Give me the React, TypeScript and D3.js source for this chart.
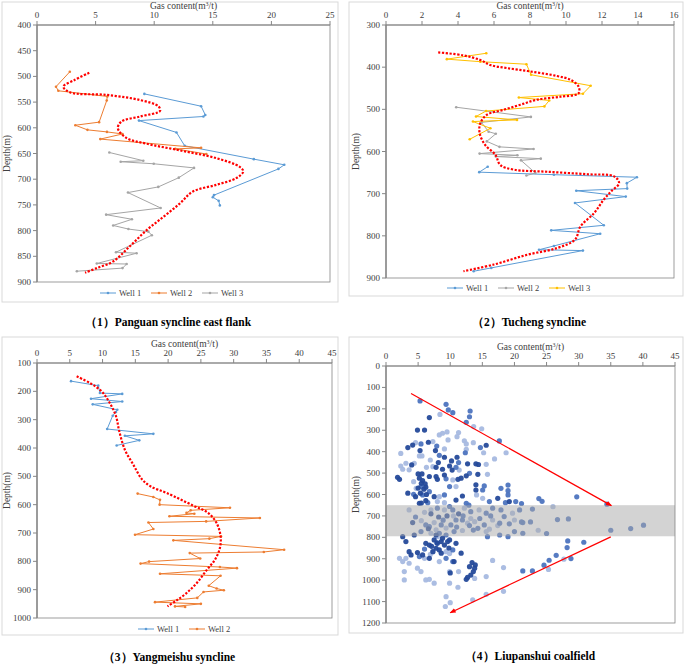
import React from 'react';
import * as d3 from 'd3';

type Pt = [number, number]; // [gas content, depth]

// (1) Panguan syncline east flank
const p1Well1: Pt[] = [
  [9.16, 534], [14.0, 558], [14.36, 575], [14.2, 578], [8.7, 586], [11.9, 609], [12.6, 635],
  [18.5, 661], [21.1, 672], [20.6, 680], [15.1, 731], [15.0, 735], [15.5, 742], [15.6, 751],
];
const p1Well2: Pt[] = [
  [2.8, 491], [1.62, 520], [1.82, 528], [6.0, 539], [5.95, 547], [5.3, 589], [3.27, 595],
  [4.3, 604], [5.97, 608], [7.3, 612], [5.4, 622], [14.0, 639], [11.8, 641], [14.45, 651],
];
const p1Well3: Pt[] = [
  [6.17, 648], [9.07, 664], [7.14, 666], [9.96, 670], [13.4, 678], [12.1, 697], [10.35, 715],
  [7.76, 726], [10.55, 756], [5.9, 769], [8.1, 778], [6.5, 790], [7.8, 797], [9.5, 802],
  [9.8, 809], [6.74, 842], [8.5, 844], [5.1, 864], [7.65, 865], [7.3, 873], [3.4, 879],
];
const p1Trend: Pt[] = [
  [4.46, 493], [3.2, 507], [2.25, 520], [2.8, 531], [5.95, 536], [8.8, 546], [10.35, 558],
  [10.5, 567], [8.8, 578], [7.2, 588], [6.9, 601], [7.65, 620], [9.36, 631], [12.2, 644],
  [15.3, 659], [17.3, 676], [17.6, 685], [17.0, 698], [15.3, 711], [13.3, 724], [12.2, 747],
  [10.8, 773], [9.36, 799], [7.9, 831], [6.5, 860], [5.1, 873], [4.1, 882],
];

// (2) Tucheng syncline
const p2Well1: Pt[] = [
  [5.65, 636], [5.18, 649], [9.33, 655], [13.94, 661], [13.38, 675], [13.4, 688], [10.57, 693],
  [13.32, 707], [10.5, 722], [12.1, 775], [9.18, 787], [11.9, 795], [9.33, 824], [8.5, 833],
  [10.94, 835], [5.85, 876], [4.87, 884],
];
const p2Well2: Pt[] = [
  [3.9, 495], [8.05, 518], [5.3, 531], [5.7, 553], [6.1, 558], [5.6, 576], [6.3, 589],
  [8.2, 594], [5.2, 605], [7.3, 609], [6.1, 612], [8.6, 617], [7.5, 621], [8.3, 651], [7.8, 657],
];
const p2Well3: Pt[] = [
  [5.57, 367], [3.38, 381], [5.24, 387], [7.8, 393], [8.06, 418], [11.37, 444], [10.94, 463],
  [7.38, 472], [9.07, 479], [8.8, 493], [5.56, 504], [5.0, 517], [7.28, 525], [4.83, 529],
  [5.8, 545], [4.65, 571],
];
const p2Trend: Pt[] = [
  [2.9, 365], [4.3, 372], [5.24, 383], [5.8, 395], [6.7, 402], [8.0, 410], [9.5, 421],
  [10.26, 430], [10.7, 446], [10.7, 462], [9.7, 470], [8.4, 477], [7.47, 489], [6.54, 501],
  [5.6, 513], [5.24, 533], [5.2, 556], [5.5, 584], [6.08, 608], [6.35, 632], [7.1, 643],
  [8.96, 648], [11.2, 654], [12.67, 659], [12.95, 675], [12.5, 695], [12.1, 714], [11.56, 746],
  [10.8, 778], [10.5, 809], [9.5, 829], [7.84, 845], [6.0, 868], [4.3, 884],
];

// (3) Yangmeishu syncline
const p3Well1: Pt[] = [
  [5.19, 164], [9.35, 180], [9.6, 206], [13.0, 209], [8.24, 226], [13.0, 236], [8.5, 246],
  [12.25, 265], [12.05, 273], [11.55, 286], [10.7, 333], [17.75, 350], [13.4, 357],
  [15.6, 373], [12.15, 391],
];
const p3Well2: Pt[] = [
  [15.35, 561], [17.75, 573], [18.76, 583], [18.7, 600], [29.44, 611], [23.44, 620], [22.8, 629],
  [24.0, 632], [20.2, 641], [34.0, 647], [25.8, 659], [17.0, 663], [17.75, 686], [14.95, 706],
  [28.07, 712], [26.3, 720], [20.8, 726], [37.7, 759], [34.6, 767], [23.3, 771], [24.9, 790],
  [17.1, 801], [15.8, 808], [27.9, 820], [30.5, 824], [18.76, 844], [28.0, 851], [26.2, 886],
  [27.4, 896], [28.5, 902], [25.4, 908], [24.45, 929], [18.0, 944], [25.0, 950], [21.05, 959],
  [22.6, 961],
];
const p3Trend: Pt[] = [
  [6.05, 147], [8.1, 171], [9.86, 200], [11.1, 241], [12.05, 288], [12.55, 341], [13.4, 406],
  [14.7, 459], [16.0, 510], [17.3, 535], [19.8, 559], [23.8, 603], [26.1, 629], [27.4, 665],
  [28.0, 712], [27.9, 753], [27.15, 794], [25.9, 830], [24.35, 877], [22.8, 912], [21.3, 938],
  [19.9, 959],
];

// (4) Liupanshui coalfield, three shades of samples
const p4Dark: Pt[] = [
  [6.75, 241], [4.9, 299], [6.0, 299], [6.6, 356], [4.15, 369], [3.4, 381], [5.3, 395], [7.7, 395],
  [9.1, 426], [8.15, 451], [10.2, 443], [11.06, 426], [9.9, 467], [12.7, 457], [14.0, 457],
  [14.4, 460], [10.3, 486], [8.8, 482], [7.8, 473], [4.0, 462], [5.0, 504], [5.6, 504], [5.2, 524],
  [5.7, 535], [6.75, 516], [7.8, 516], [8.0, 529], [9.1, 509], [11.2, 529], [11.7, 524],
  [12.5, 513], [14.3, 506], [1.8, 520], [2.1, 529], [6.2, 566], [3.4, 594], [5.35, 594],
  [7.5, 610], [11.9, 607], [10.9, 626], [14.0, 555], [14.0, 579], [17.4, 618], [19.2, 633],
  [6.2, 629], [15.6, 370], [5.5, 548], [6.1, 550], [5.9, 575], [5.0, 570], [6.3, 600], [4.6, 610],
  [5.5, 640], [5.2, 641], [2.6, 797], [4.4, 789], [7.8, 789], [8.8, 804], [9.9, 812], [3.1, 820],
  [6.2, 828], [6.75, 836], [7.5, 812], [8.0, 828], [8.6, 820], [9.1, 836], [9.6, 820], [10.9, 828],
  [7.8, 851], [8.3, 859], [7.3, 867], [8.6, 874], [3.6, 867], [3.9, 882], [4.9, 871], [5.7, 882],
  [6.75, 898], [10.6, 913], [11.7, 874], [13.4, 918], [13.9, 929], [13.8, 944], [13.6, 960],
  [13.2, 976], [12.7, 987], [12.5, 996], [13.0, 937], [4.15, 731], [10.0, 966],
  [7.0, 690], [8.2, 705], [9.5, 700], [6.6, 760], [11.3, 690], [7.1, 842], [9.8, 850],
];
const p4Mid: Pt[] = [
  [5.3, 163], [9.35, 179], [9.7, 205], [10.4, 218], [13.1, 210], [13.0, 237], [12.5, 263],
  [5.45, 364], [7.9, 374], [12.35, 405], [14.7, 381], [17.65, 350], [8.3, 417], [10.9, 473],
  [11.3, 451], [13.0, 501], [9.35, 527], [5.45, 563], [4.3, 599], [5.7, 602], [6.75, 587],
  [9.1, 602], [9.9, 563], [15.3, 560], [15.05, 579], [17.9, 571], [19.0, 582], [19.0, 602],
  [19.0, 556], [16.1, 633], [6.5, 638], [12.5, 641], [18.6, 638], [20.2, 633], [8.0, 664],
  [9.9, 656], [10.4, 672], [13.2, 680], [15.6, 687], [16.6, 664], [17.9, 672], [18.4, 703],
  [20.8, 672], [6.2, 742], [6.75, 750], [8.6, 742], [10.1, 742], [10.9, 719], [11.9, 719],
  [14.3, 758], [15.3, 742], [17.7, 734], [19.2, 737], [21.3, 731], [5.45, 773], [8.3, 781],
  [9.35, 789], [10.6, 773], [13.6, 766], [17.7, 789], [20.0, 773], [15.8, 797], [19.0, 797],
  [21.3, 781], [10.4, 859], [5.2, 890], [9.35, 898], [10.4, 913], [23.8, 619], [24.3, 632],
  [21.1, 642], [29.7, 611], [34.4, 645], [22.8, 668], [26.7, 717], [28.4, 714], [21.1, 728],
  [22.5, 728], [25.0, 782], [35.0, 767], [38.1, 759], [40.1, 743], [28.3, 817], [28.2, 848],
  [30.8, 823], [26.5, 884], [28.8, 899], [25.4, 907], [24.6, 930], [22.8, 957], [21.3, 957],
  [12.0, 700], [14.6, 712], [16.3, 700], [4.6, 705], [11.0, 752], [13.0, 745], [8.9, 720],
  [7.9, 825], [6.0, 855], [12.9, 650],
];
const p4Light: Pt[] = [
  [8.4, 226], [13.65, 283], [14.9, 293], [8.3, 322], [8.8, 314], [9.5, 308], [11.3, 311],
  [11.06, 330], [9.66, 345], [7.3, 353], [4.6, 358], [2.3, 408], [9.1, 387], [12.2, 349],
  [12.5, 364], [13.6, 358], [12.5, 389], [15.2, 405], [18.7, 405], [16.9, 434], [5.2, 420],
  [5.6, 420], [6.9, 439], [15.6, 459], [7.3, 470], [6.3, 473], [4.4, 454], [3.1, 454], [2.3, 467],
  [2.6, 482], [3.6, 485], [10.4, 532], [11.4, 486], [15.8, 506], [4.7, 571], [8.3, 610],
  [10.9, 563], [14.1, 602], [15.05, 618], [8.0, 633], [9.1, 638], [3.6, 672], [7.0, 672],
  [9.1, 672], [12.2, 664], [14.5, 672], [19.7, 687], [7.5, 731], [7.8, 765], [9.35, 757],
  [12.7, 734], [13.8, 727], [16.1, 762], [16.6, 719], [20.0, 719], [7.0, 781], [11.9, 768],
  [15.6, 773], [6.0, 683], [26.0, 657], [23.7, 767], [9.35, 867], [9.9, 876], [3.1, 898],
  [2.1, 898], [2.6, 913], [3.6, 921], [6.0, 898], [7.3, 867], [8.3, 913], [4.9, 944], [5.45, 960],
  [2.85, 960], [2.85, 999], [6.2, 999], [6.75, 996], [7.5, 1014], [9.9, 1014], [11.2, 1033],
  [13.8, 992], [15.6, 983], [16.6, 908], [18.3, 941], [11.3, 960], [9.9, 960], [18.3, 1052],
  [15.6, 1066], [13.5, 1092], [9.35, 1077], [10.0, 1105], [9.24, 1123], [25.3, 950], [27.7, 902],
  [10.5, 700], [13.2, 712], [5.5, 722], [17.4, 745], [8.0, 797], [6.9, 880], [4.3, 540],
];
const p4Arrows: [Pt, Pt][] = [
  [[3.9, 128], [35.1, 652]],
  [[35.0, 798], [10.0, 1152]],
];
const p4Band: Pt = [650, 795];

const FONT = '"Liberation Serif", "Times New Roman", serif';
const BLUE = '#5B9BD5';
const ORANGE = '#ED7D31';
const GRAY = '#A5A5A5';
const YELLOW = '#FFC000';

interface Series { name: string; color: string; pts: Pt[] }

interface PanelProps {
  frame: [number, number, number, number];
  plot: [number, number, number, number];
  xMax: number;
  xStep: number;
  yMin: number;
  yMax: number;
  yStep: number;
  series: Series[];
  trend?: Pt[];
  legendX?: number;
  legendY?: number;
  title: string;
  titleX: number;
  titleY: number;
  extra?: (x: d3.ScaleLinear<number, number>, y: d3.ScaleLinear<number, number>) => React.ReactNode;
}

const Panel = (p: PanelProps) => {
  const [px, py, pw, ph] = p.plot;
  const x = d3.scaleLinear().domain([0, p.xMax]).range([px, px + pw]);
  const y = d3.scaleLinear().domain([p.yMin, p.yMax]).range([py, py + ph]);
  const xTicks = d3.range(0, p.xMax + 0.001, p.xStep);
  const yTicks = d3.range(p.yMin, p.yMax + 0.001, p.yStep);
  const line = d3.line<Pt>().x(d => x(d[0])).y(d => y(d[1]));
  const smooth = d3.line<Pt>().x(d => x(d[0])).y(d => y(d[1])).curve(d3.curveCatmullRom.alpha(0.5));

  return (
    <g>
      <rect x={p.frame[0]} y={p.frame[1]} width={p.frame[2]} height={p.frame[3]}
        fill="#fff" stroke="#D9D9D9" strokeWidth={1} />
      {p.extra && p.extra(x, y)}
      {p.series.map(s => (
        <g key={s.name}>
          <path d={line(s.pts) || ''} fill="none" stroke={s.color} strokeWidth={1} />
          {s.pts.map((d, i) => (
            <circle key={i} cx={x(d[0])} cy={y(d[1])} r={1.3} fill={s.color} />
          ))}
        </g>
      ))}
      {p.trend && (
        <path d={smooth(p.trend) || ''} fill="none" stroke="#FF0000" strokeWidth={2.2}
          strokeDasharray="2.2 1.6" />
      )}
      <rect x={px} y={py} width={pw} height={ph} fill="none" stroke="#868686" strokeWidth={0.8} />
      <line x1={px} x2={px} y1={py} y2={py + ph} stroke="#868686" strokeWidth={1.4} />
      <line x1={px} x2={px + pw} y1={py} y2={py} stroke="#868686" strokeWidth={1} />
      {yTicks.map(t => (
        <g key={'y' + t}>
          <line x1={px - 4} x2={px} y1={y(t)} y2={y(t)} stroke="#868686" strokeWidth={1} />
          <text x={px - 6} y={y(t) + 3} textAnchor="end" fontSize={9} fill="#404040">{t}</text>
        </g>
      ))}
      {xTicks.map(t => (
        <g key={'x' + t}>
          <line x1={x(t)} x2={x(t)} y1={py - 4} y2={py} stroke="#868686" strokeWidth={1} />
          <text x={x(t)} y={py - 7} textAnchor="middle" fontSize={9} fill="#404040">{t}</text>
        </g>
      ))}
      <text x={px + pw / 2} y={py - 16} textAnchor="middle" fontSize={9.5} fill="#404040">
        Gas content(m<tspan fontSize={6} dy={-3.5}>3</tspan><tspan dy={3.5}>/t)</tspan>
      </text>
      <text transform={`translate(${px - 27},${py + ph / 2}) rotate(-90)`} textAnchor="middle"
        fontSize={9.5} fill="#404040">Depth(m)</text>
      {p.legendX !== undefined && p.series.map((s, i) => {
        const lx = (p.legendX as number) + i * 51;
        const ly = p.legendY as number;
        return (
          <g key={'lg' + s.name}>
            <line x1={lx} x2={lx + 16} y1={ly} y2={ly} stroke={s.color} strokeWidth={1} />
            <circle cx={lx + 8} cy={ly} r={1.3} fill={s.color} />
            <text x={lx + 19} y={ly + 3} fontSize={8.5} fill="#404040">{s.name}</text>
          </g>
        );
      })}
      <text x={p.titleX} y={p.titleY} textAnchor="middle" fontSize={11.5} fontWeight="bold" fill="#000">
        {p.title}
      </text>
    </g>
  );
};

const App = () => {
  const scatter = (x: d3.ScaleLinear<number, number>, y: d3.ScaleLinear<number, number>) => (
    <g>
      <defs>
        <marker id="arrowHead" viewBox="0 0 10 10" refX={9} refY={5} markerWidth={6} markerHeight={6}
          orient="auto" markerUnits="userSpaceOnUse">
          <path d="M0,1 L10,5 L0,9 Z" fill="#FF0000" />
        </marker>
      </defs>
      {p4Light.map((d, i) => <circle key={'l' + i} cx={x(d[0])} cy={y(d[1])} r={2.6} fill="#A6B9E0" fillOpacity={0.95} />)}
      {p4Mid.map((d, i) => <circle key={'m' + i} cx={x(d[0])} cy={y(d[1])} r={2.6} fill="#4D74BF" fillOpacity={0.95} />)}
      {p4Dark.map((d, i) => <circle key={'d' + i} cx={x(d[0])} cy={y(d[1])} r={2.6} fill="#254A9A" fillOpacity={0.95} />)}
      <rect x={x(0)} y={y(p4Band[0])} width={x(45) - x(0)} height={y(p4Band[1]) - y(p4Band[0])}
        fill="#A8A8A8" fillOpacity={0.5} />
      {p4Arrows.map((a, i) => (
        <line key={'a' + i} x1={x(a[0][0])} y1={y(a[0][1])} x2={x(a[1][0])} y2={y(a[1][1])}
          stroke="#FF0000" strokeWidth={1.2} markerEnd="url(#arrowHead)" />
      ))}
    </g>
  );

  return (
    <svg width={685} height={664} fontFamily={FONT}
      style={{ position: 'absolute', left: 0, top: 0, display: 'block', background: '#fff' }}>
      <Panel frame={[2, 2, 336, 300]} plot={[37, 25, 293, 257]} xMax={25} xStep={5}
        yMin={400} yMax={900} yStep={50}
        series={[{ name: 'Well 1', color: BLUE, pts: p1Well1 }, { name: 'Well 2', color: ORANGE, pts: p1Well2 },
          { name: 'Well 3', color: GRAY, pts: p1Well3 }]}
        trend={p1Trend} legendX={100} legendY={293}
        title="（1）Panguan syncline east flank" titleX={168} titleY={326} />
      <Panel frame={[349, 2, 334, 294]} plot={[386, 25, 288, 253]} xMax={16} xStep={2}
        yMin={300} yMax={900} yStep={100}
        series={[{ name: 'Well 1', color: BLUE, pts: p2Well1 }, { name: 'Well 2', color: GRAY, pts: p2Well2 },
          { name: 'Well 3', color: YELLOW, pts: p2Well3 }]}
        trend={p2Trend} legendX={447} legendY={288}
        title="（2）Tucheng syncline" titleX={529} titleY={326} />
      <Panel frame={[2, 337, 336, 298]} plot={[37, 363, 295, 255]} xMax={45} xStep={5}
        yMin={100} yMax={1000} yStep={100}
        series={[{ name: 'Well 1', color: BLUE, pts: p3Well1 }, { name: 'Well 2', color: ORANGE, pts: p3Well2 }]}
        trend={p3Trend} legendX={138} legendY={629}
        title="（3）Yangmeishu syncline" titleX={169} titleY={661} />
      <Panel frame={[349, 337, 334, 296]} plot={[386, 366, 289, 257]} xMax={45} xStep={5}
        yMin={0} yMax={1200} yStep={100}
        series={[]} extra={scatter}
        title="（4）Liupanshui coalfield" titleX={530} titleY={660} />
    </svg>
  );
};

export default App;
